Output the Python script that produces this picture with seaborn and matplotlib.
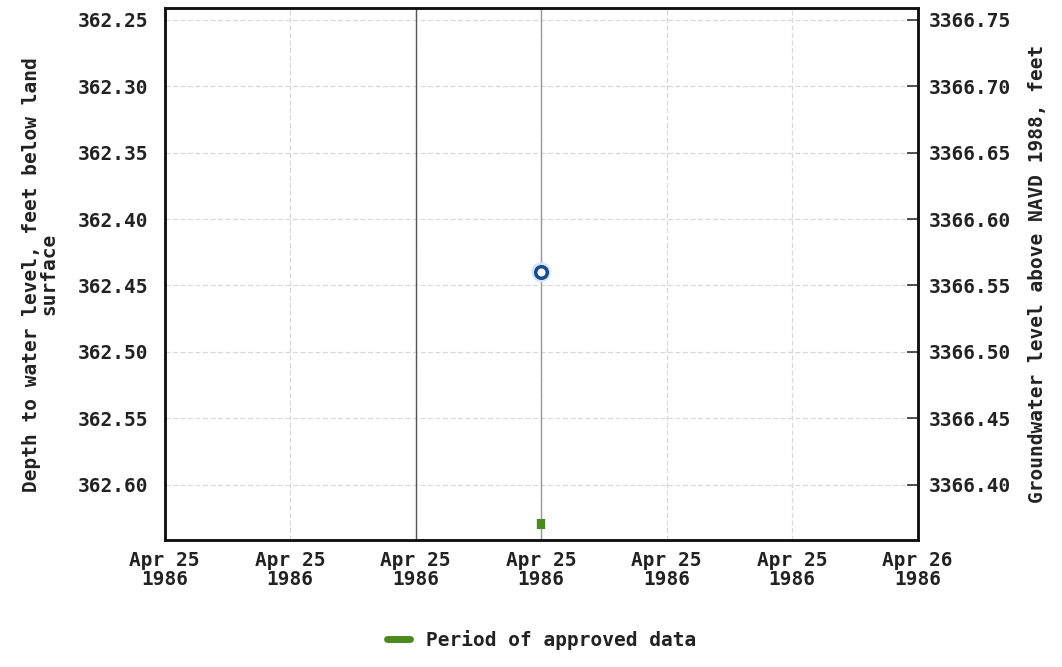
import numpy as np
import pandas as pd
import matplotlib
matplotlib.use("Agg")
import matplotlib.pyplot as plt
import matplotlib.dates as mdates
from matplotlib.lines import Line2D
import seaborn as sns

sns.set_theme(style="white")
plt.rcParams["font.family"] = ["DejaVu Sans Mono"]
plt.rcParams["font.weight"] = "bold"

# data
dates = ["1986-04-25 12:00"]
depth = [362.44]
datum_offset = 3729.0  # depth + elevation
x_start = "1986-04-25 00:00"
x_end = "1986-04-26 00:00"
y_top, y_bottom = 362.241, 362.642
left_ticks = [362.25, 362.30, 362.35, 362.40, 362.45, 362.50, 362.55, 362.60]
right_ticks = [3366.75, 3366.70, 3366.65, 3366.60, 3366.55, 3366.50, 3366.45, 3366.40]

df = pd.DataFrame({"date": pd.to_datetime(dates), "depth": depth})

fig = plt.figure(figsize=(10.62, 6.67), dpi=100)
ax = fig.add_axes([0.155, 0.190, 0.709, 0.798])

txt = "#222222"
fs = 14

ax.set_xlim(pd.Timestamp(x_start), pd.Timestamp(x_end))
ax.set_ylim(y_bottom, y_top)

# grid
ax.set_yticks(left_ticks)
ax.set_xticks(pd.date_range(x_start, x_end, freq="4h"))
ax.grid(True, color="#d9d9d9", linestyle=(0, (4, 2)), linewidth=0.9)
ax.axvline(pd.Timestamp("1986-04-25 08:00"), color="#555555", lw=1.0, zorder=1)
ax.axvline(pd.Timestamp("1986-04-25 12:00"), color="#999999", lw=1.0, zorder=1)

# halo + point
sns.scatterplot(data=df, x="date", y="depth", ax=ax, s=200, color="#cfe6ff",
                edgecolor="none", zorder=3, legend=False)
sns.scatterplot(data=df, x="date", y="depth", ax=ax, s=70, color="#f4f8ff",
                edgecolor="#1a4a8a", linewidth=2.5, zorder=4, legend=False)

# approved data period bar at the bottom of the plot
trans = ax.get_xaxis_transform()
for d in df["date"]:
    ax.plot([d, d], [0.022, 0.04], transform=trans, color="#4a8a1e",
            lw=6, solid_capstyle="butt", zorder=4)

ax.xaxis.set_major_formatter(mdates.DateFormatter("%b %d\n%Y"))
ax.tick_params(axis="x", length=0, pad=8, labelsize=fs, labelcolor=txt)
ax.tick_params(axis="y", length=0, pad=12, labelsize=fs, labelcolor=txt)
ax.set_yticklabels([f"{v:.2f}" for v in left_ticks])
for lbl in ax.get_xticklabels() + ax.get_yticklabels():
    lbl.set_fontweight("bold")
    lbl.set_linespacing(0.95)

ax.set_xlabel("")
ax.set_ylabel("Depth to water level, feet below land\nsurface", fontsize=fs,
              fontweight="bold", color=txt, labelpad=14, linespacing=0.85)

for sp in ax.spines.values():
    sp.set_color("#111111")
    sp.set_linewidth(1.8)

# right axis: elevation
ax2 = ax.twinx()
ax2.set_ylim(datum_offset - y_bottom, datum_offset - y_top)
ax2.set_yticks(right_ticks)
ax2.set_yticklabels([f"{v:.2f}" for v in right_ticks], fontweight="bold")
ax2.tick_params(axis="y", direction="in", length=8, width=1.2, color="#333333",
                pad=8, labelsize=fs, labelcolor=txt)
ax2.set_ylabel("Groundwater level above NAVD 1988, feet", fontsize=fs,
               fontweight="bold", color=txt, labelpad=12)
for sp in ax2.spines.values():
    sp.set_color("#111111")
    sp.set_linewidth(1.8)
ax2.grid(False)

handle = Line2D([0], [0], color="#4a8a1e", lw=5)
fig.legend([handle], ["Period of approved data"], loc="lower center",
           bbox_to_anchor=(0.51, 0.0), frameon=False, handlelength=1.2,
           prop={"size": fs, "weight": "bold"}, labelcolor=txt)

fig.savefig("out.png", dpi=100)
